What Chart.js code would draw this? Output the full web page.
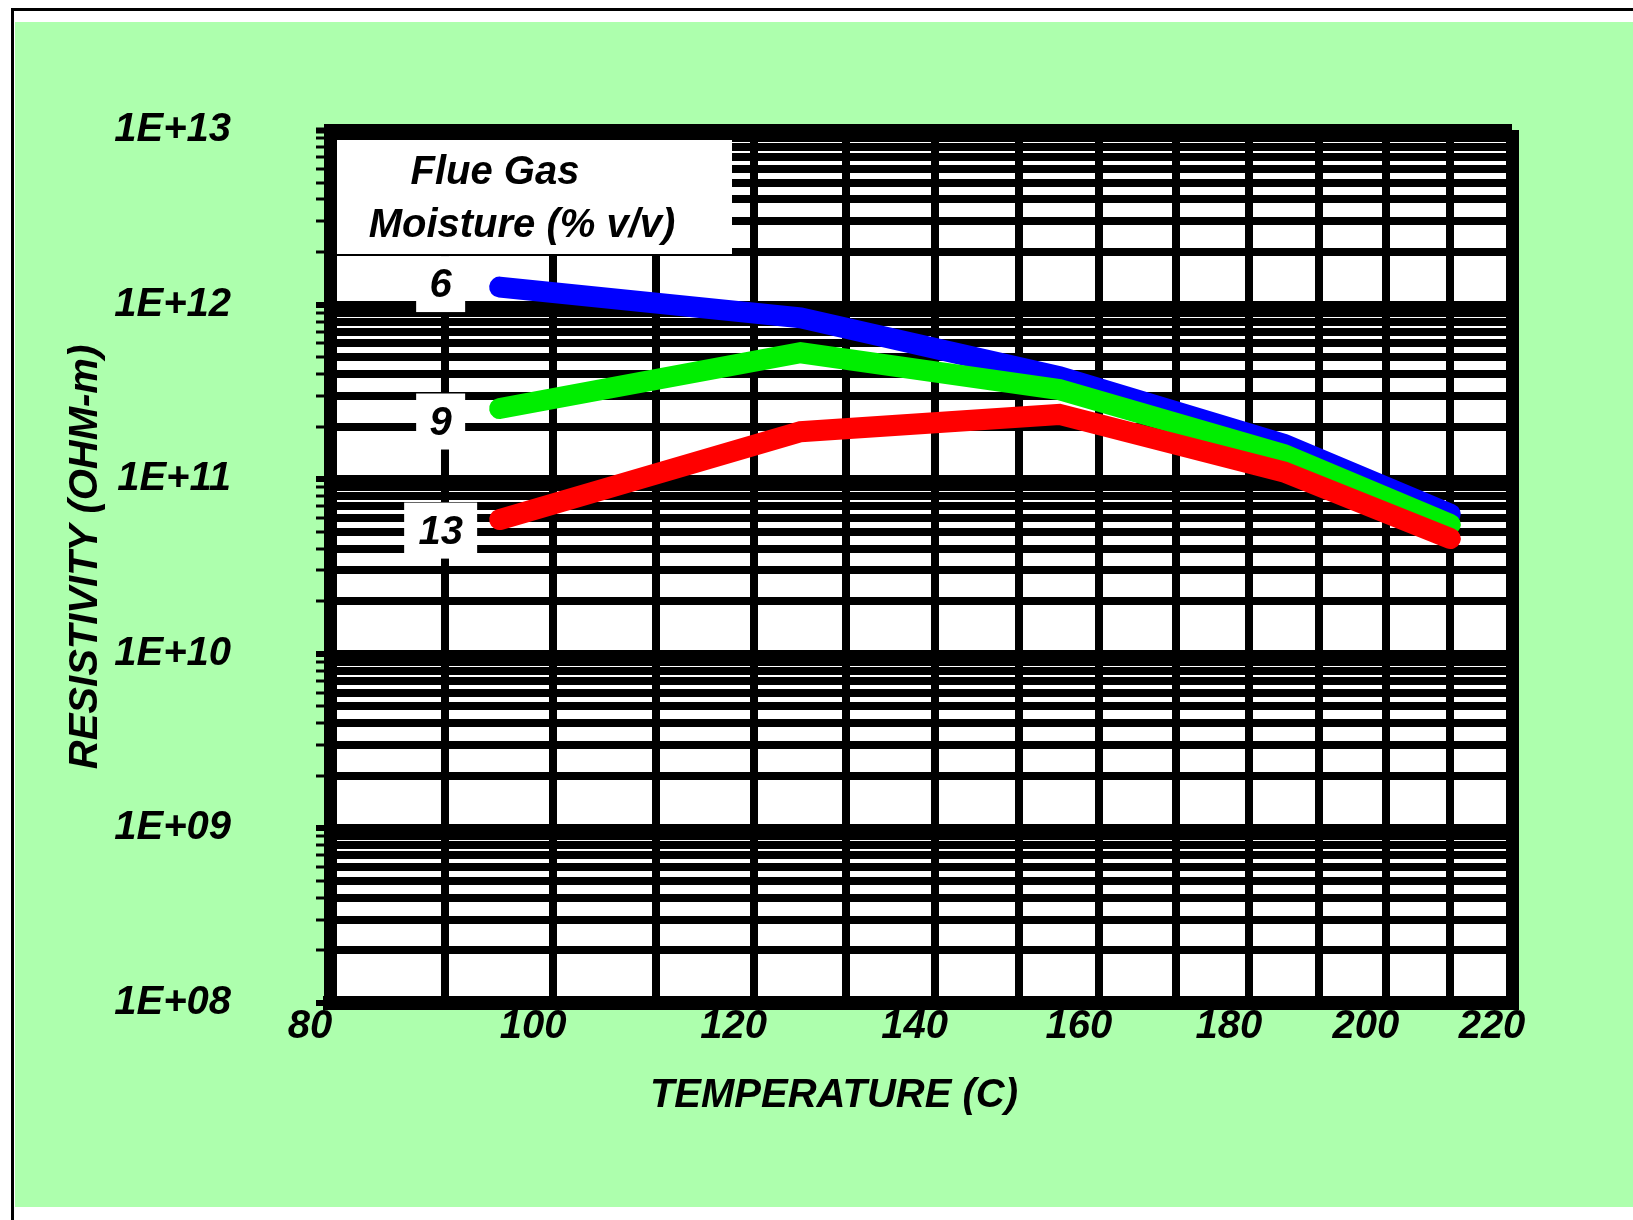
<!DOCTYPE html>
<html><head><meta charset="utf-8">
<script src="https://cdn.jsdelivr.net/npm/chart.js@4.4.1/dist/chart.umd.min.js"></script>
<style>html,body{margin:0;padding:0;background:#fff;overflow:hidden}canvas{display:block}</style>
</head><body>
<canvas id="c" width="1633" height="1220"></canvas>
<script>
// ---- data ----
const temperaturesC = [95, 125, 155, 185, 210];
const moisture6  = [1.26e12, 8.4e11, 3.86e11, 1.58e11, 6.3e10];
const moisture9  = [2.54e11, 5.3e11, 3.26e11, 1.38e11, 5.5e10];
const moisture13 = [5.87e10, 1.87e11, 2.35e11, 1.10e11, 4.57e10];
const seriesNames = ['13', '9', '6'];
const xGridTemps = [80, 90, 100, 110, 120, 130, 140, 150, 160, 170, 180, 190, 200, 210, 220];
const xLabelTemps = [80, 100, 120, 140, 160, 180, 200, 220];
const yDecadeExps = [8, 9, 10, 11, 12, 13];
const legendLines = ['Flue Gas', 'Moisture (% v/v)'];
const xTitle = 'TEMPERATURE (C)';
const yTitle = 'RESISTIVITY (OHM-m)';

// reciprocal-absolute-temperature axis
const toX = T => -1000 / (T + 273.15);
const toT = v => Math.round(-1000 / v - 273.15);

const FONT = 'bold italic 40px "Liberation Sans", Arial, sans-serif';

const pts = arr => temperaturesC.map((t, i) => ({x: toX(t), y: arr[i]}));

const decor = {
  id: 'decor',
  beforeDraw(chart) {
    const c = chart.ctx, W = chart.width, H = chart.height, ca = chart.chartArea;
    c.save();
    c.fillStyle = '#ffffff'; c.fillRect(0, 0, W, H);
    c.fillStyle = '#adffad'; c.fillRect(15, 22, W - 15, 1207 - 22);
    c.fillStyle = '#000'; c.fillRect(11, 8, 3, H - 8); c.fillRect(11, 8, W - 11, 3);
    c.fillStyle = '#ffffff'; c.fillRect(ca.left, ca.top, ca.right - ca.left, ca.bottom - ca.top);
    c.restore();
  },
  beforeDatasetsDraw(chart) {
    const c = chart.ctx, ca = chart.chartArea;
    const xs = chart.scales.x, ys = chart.scales.y;
    c.save();
    c.font = FONT; c.textAlign = 'center'; c.textBaseline = 'middle';
    // legend box
    c.fillStyle = '#fff';
    c.fillRect(ca.left + 7, ca.top + 10, 395, 114);
    c.fillStyle = '#000';
    c.fillText(legendLines[0], ca.left + 165, ca.top + 43);
    c.fillText(legendLines[1], ca.left + 192, ca.top + 96);
    // series labels
    const firsts = [moisture13[0], moisture9[0], moisture6[0]];
    const dy = [11, 13, -3];
    const cx = xs.getPixelForValue(toX(90)) - 4;
    seriesNames.forEach((n, i) => {
      const cy = ys.getPixelForValue(firsts[i]) + dy[i];
      const w = n.length > 1 ? 73 : 49, h = 56;
      c.fillStyle = '#fff';
      c.fillRect(cx - w / 2, cy - h / 2, w, h);
      c.fillStyle = '#000';
      c.fillText(n, cx, cy + 2);
    });
    c.restore();
  },
  afterDraw(chart) {
    const c = chart.ctx, ca = chart.chartArea;
    c.save();
    c.font = FONT; c.fillStyle = '#000'; c.textAlign = 'center'; c.textBaseline = 'middle';
    c.fillText(xTitle, ca.left + 504, 1096);
    c.translate(86, ca.top + 427);
    c.rotate(-Math.PI / 2);
    c.fillText(yTitle, 0, 0);
    c.restore();
  }
};

new Chart(document.getElementById('c'), {
  type: 'line',
  data: {
    datasets: [
      {label: '13', data: pts(moisture13), borderColor: '#ff0000'},
      {label: '9',  data: pts(moisture9),  borderColor: '#00ee00'},
      {label: '6',  data: pts(moisture6),  borderColor: '#0000ff'}
    ].map(d => Object.assign(d, {borderWidth: 21, pointRadius: 0, tension: 0,
      borderCapStyle: 'round', borderJoinStyle: 'miter', fill: false}))
  },
  options: {
    responsive: false,
    devicePixelRatio: 1,
    animation: false,
    layout: {padding: {left: 0, right: 121, top: 130, bottom: 0}},
    plugins: {legend: {display: false}, tooltip: {enabled: false}, title: {display: false}},
    scales: {
      x: {
        type: 'linear',
        min: toX(80), max: toX(220),
        afterBuildTicks: s => { s.ticks = xGridTemps.map(T => ({value: toX(T)})); },
        afterFit: s => { s.height = 1220 - 1003; },
        ticks: {
          autoSkip: false, maxRotation: 0, padding: 0, labelOffset: -20,
          color: '#000', font: {family: '"Liberation Sans", Arial, sans-serif', size: 40, weight: 'bold', style: 'italic'},
          callback: v => { const T = toT(v); return xLabelTemps.includes(T) ? String(T) : ''; }
        },
        grid: {
          color: '#000', drawTicks: false,
          lineWidth: ctx => { const T = toT(ctx.tick.value); return (T === 80 || T === 220) ? 13 : 8; }
        },
        border: {display: true, color: '#000', width: 14}
      },
      y: {
        type: 'logarithmic',
        min: 1e8, max: 1e13,
        afterBuildTicks: s => {
          const t = [];
          yDecadeExps.forEach(e => {
            if (e === 13) { t.push({value: 1e13, major: true}); return; }
            for (let m = 1; m <= 9; m++) t.push({value: m * Math.pow(10, e), major: m === 1});
          });
          s.ticks = t;
        },
        afterFit: s => { s.width = 330; },
        ticks: {
          autoSkip: false, padding: 85,
          color: '#000', font: {family: '"Liberation Sans", Arial, sans-serif', size: 40, weight: 'bold', style: 'italic'},
          callback: v => {
            const e = Math.log10(v);
            return Math.abs(e - Math.round(e)) < 1e-9 ? '1E+' + String(Math.round(e)).padStart(2, '0') : '';
          }
        },
        grid: {
          color: '#000', drawTicks: true, tickLength: 14, tickColor: '#000',
          tickWidth: ctx => ctx.tick && ctx.tick.major ? 6 : 3,
          lineWidth: ctx => ctx.tick.value >= 9.99e12 ? 13 : 8
        },
        border: {display: true, color: '#000', width: 13}
      }
    }
  },
  plugins: [decor]
});
</script>
</body></html>
